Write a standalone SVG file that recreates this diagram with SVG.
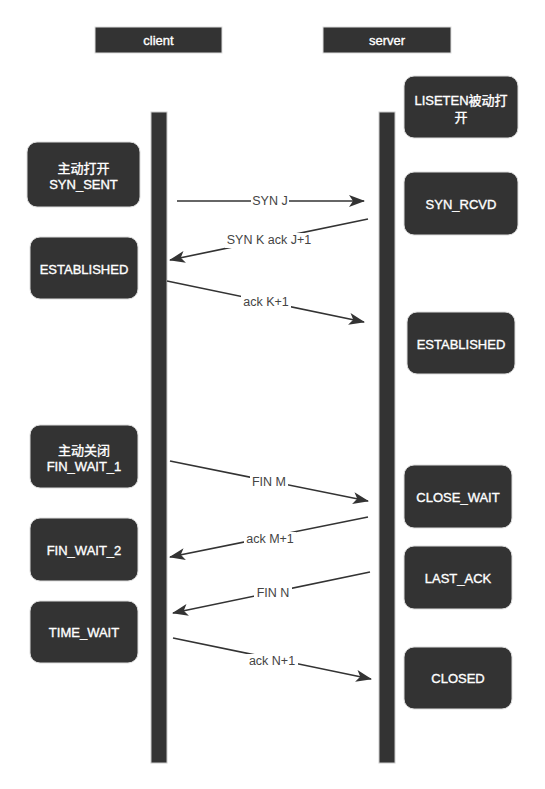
<svg xmlns="http://www.w3.org/2000/svg" width="545" height="789" viewBox="0 0 545 789">
<defs>
<marker id="arr" markerUnits="userSpaceOnUse" markerWidth="16" markerHeight="12" viewBox="0 0 16 12" refX="15" refY="6" orient="auto">
<path d="M0,0 L16,6 L0,12 L4,6 Z" fill="#333"/>
</marker>
<style>
.hdr{fill:#333;stroke:#ddd;stroke-width:1}
.bar{fill:#333;stroke:#ccc;stroke-width:1}
.node{fill:#333;stroke:#ddd;stroke-width:1}
.nt{fill:#fff;stroke:#fff;stroke-width:0.35;font-family:"Liberation Sans",Arial,"Noto Sans CJK SC",sans-serif;font-size:13px;text-anchor:middle;dominant-baseline:central}
.edge{stroke:#333;stroke-width:1.6;fill:none;marker-end:url(#arr)}
.lb{fill:#fff}
.lt{fill:#444;font-family:"Liberation Sans",Arial,sans-serif;font-size:12.5px;text-anchor:middle;dominant-baseline:central}
</style>
</defs>
<rect width="545" height="789" fill="#fff"/>
<g id="client">
<rect class="hdr" x="95" y="27" width="127" height="26"/>
<text class="nt" x="158.5" y="40">client</text>
</g>
<g id="server">
<rect class="hdr" x="323" y="27" width="128" height="26"/>
<text class="nt" x="387" y="40">server</text>
</g>
<g id="client-lifeline"><rect class="bar" x="151" y="112" width="16" height="651"/></g>
<g id="server-lifeline"><rect class="bar" x="379" y="112" width="16" height="651"/></g>
<g id="syn-sent">
<rect class="node" x="27" y="142" width="113" height="65" rx="10"/>
<text class="nt" x="83.5" y="168">主动打开</text>
<text class="nt" x="83.5" y="184">SYN_SENT</text>
</g>
<g id="established-c">
<rect class="node" x="30" y="237" width="108" height="62" rx="10"/>
<text class="nt" x="84" y="269">ESTABLISHED</text>
</g>
<g id="listen">
<rect class="node" x="404" y="76" width="114" height="62" rx="10"/>
<text class="nt" x="461" y="100">LISETEN被动打</text>
<text class="nt" x="461" y="117">开</text>
</g>
<g id="syn-rcvd">
<rect class="node" x="404" y="172" width="114" height="63" rx="10"/>
<text class="nt" x="461" y="204">SYN_RCVD</text>
</g>
<g id="established-s">
<rect class="node" x="407" y="312" width="108" height="62" rx="10"/>
<text class="nt" x="461" y="344">ESTABLISHED</text>
</g>
<g id="fin-wait-1">
<rect class="node" x="30" y="425" width="108" height="63" rx="10"/>
<text class="nt" x="84" y="450">主动关闭</text>
<text class="nt" x="84" y="466">FIN_WAIT_1</text>
</g>
<g id="close-wait">
<rect class="node" x="404" y="465" width="108" height="63" rx="10"/>
<text class="nt" x="458" y="497">CLOSE_WAIT</text>
</g>
<g id="fin-wait-2">
<rect class="node" x="30" y="518" width="108" height="63" rx="10"/>
<text class="nt" x="84" y="550">FIN_WAIT_2</text>
</g>
<g id="last-ack">
<rect class="node" x="404" y="546" width="108" height="63" rx="10"/>
<text class="nt" x="458" y="578">LAST_ACK</text>
</g>
<g id="time-wait">
<rect class="node" x="30" y="601" width="108" height="62" rx="10"/>
<text class="nt" x="84" y="632">TIME_WAIT</text>
</g>
<g id="closed">
<rect class="node" x="404" y="647" width="108" height="62" rx="10"/>
<text class="nt" x="458" y="678">CLOSED</text>
</g>
<g id="connectors">
<line class="edge" x1="177" y1="201" x2="364" y2="201"/>
<line class="edge" x1="368" y1="219" x2="170" y2="260"/>
<line class="edge" x1="167" y1="281" x2="364" y2="322"/>
<line class="edge" x1="170" y1="461" x2="368" y2="501"/>
<line class="edge" x1="368" y1="517" x2="170" y2="557"/>
<line class="edge" x1="370" y1="572" x2="173" y2="613"/>
<line class="edge" x1="173" y1="638" x2="371" y2="679"/>
<rect class="lb" x="251" y="194" width="38" height="14"/>
<text class="lt" x="270" y="201">SYN J</text>
<rect class="lb" x="225" y="233" width="88" height="15"/>
<text class="lt" x="269" y="240">SYN K ack J+1</text>
<rect class="lb" x="241" y="295" width="50" height="14"/>
<text class="lt" x="266" y="302">ack K+1</text>
<rect class="lb" x="250" y="475" width="38" height="14"/>
<text class="lt" x="269" y="482">FIN M</text>
<rect class="lb" x="244" y="532" width="52" height="14"/>
<text class="lt" x="270" y="539">ack M+1</text>
<rect class="lb" x="254" y="586" width="38" height="14"/>
<text class="lt" x="273" y="593">FIN N</text>
<rect class="lb" x="246" y="654" width="52" height="14"/>
<text class="lt" x="272" y="661">ack N+1</text>
</g>
</svg>
